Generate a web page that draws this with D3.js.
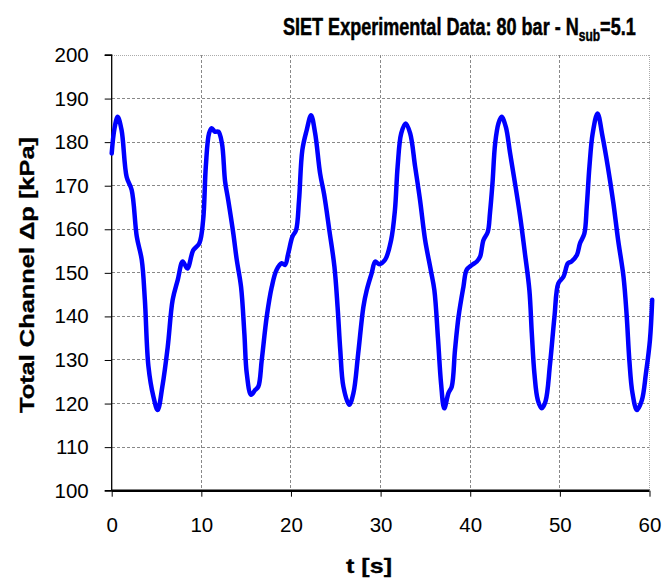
<!DOCTYPE html>
<html><head><meta charset="utf-8">
<script src="https://cdn.jsdelivr.net/npm/d3@7"></script>
<style>html,body{margin:0;padding:0;background:#fff;}svg{display:block;}</style>
</head><body>
<svg id="c" width="665" height="581"></svg>
<script>
const timeS = [0,0.3,0.67,1.1,1.67,2.23,2.8,3.35,3.7,4.1,4.65,5.13,5.65,6.25,6.8,7.37,7.92,8.44,9.1,9.78,10.2,10.5,10.86,11.16,11.5,11.9,12.3,12.65,13,13.57,13.95,14.43,14.8,15.07,15.55,16,16.36,16.74,17.3,17.86,18.4,18.97,19.34,19.7,20.16,20.57,20.9,21.27,21.76,22.24,22.7,23.25,23.7,24.3,24.85,25.2,25.5,25.85,26.5,26.97,27.5,28.08,28.45,29,29.4,29.83,30.5,31.17,31.6,31.9,32.3,32.8,33.3,33.85,34.4,34.97,35.6,36.0,36.4,36.75,37.1,37.57,37.94,38.3,38.7,39.24,39.6,40.18,40.74,41.1,41.47,41.96,42.2,42.48,42.78,43.15,43.5,43.97,44.45,45,45.57,46.1,46.6,46.87,47.16,47.54,47.98,48.4,48.9,49.4,49.83,50.4,50.9,51.3,51.9,52.25,52.73,53,53.3,53.66,54.2,54.76,55.35,55.97,56.5,57.1,57.46,57.75,58.1,58.6,59.15,59.6,60.05,60.3];
const dpKPa = [177.4,183,185.8,182.8,172,169,158.3,153,143.8,128.5,121.6,118.5,123.9,133,143.8,148.4,152.6,151,155.2,156.8,162.1,174.4,182,183.2,182.4,182.4,179.7,171,166.7,159,153,146.8,136.1,126.9,122,123.1,123.9,130,140,146.8,150.7,152.2,151.8,154.5,158.3,159.8,166.7,178.2,182.8,186.2,182,172.8,168,159.5,151.4,142.2,132.3,123.9,119.7,122.4,131.5,142.2,146,149.9,152.6,152,153,157.5,164.4,174.4,182,184.3,182,174.4,166.7,157.5,150.6,146,135,124.5,118.9,122.4,123.9,132.3,140,146.8,150.7,151.8,152.6,153.7,157.5,159.4,163.7,170.5,179.7,184.3,185.8,183.5,177.4,170.5,162.9,154.5,146,136.1,126.9,120.8,118.9,120.5,129,140,147.6,149.1,152.2,152.6,154.1,156.8,159,165.2,174.4,182,186.6,181.3,174.4,166,157.5,149.1,140,130,122.4,118.5,120.8,126.9,134.6,143.8];
const xTicks = [0,10,20,30,40,50,60];
const yTicks = [100,110,120,130,140,150,160,170,180,190,200];
const titleMain = "SIET Experimental Data: 80 bar - N";
const titleSub = "sub";
const titleEnd = "=5.1";
const xLabel = "t [s]";
const yLabel = "Total Channel \u0394p [kPa]";

const svg = d3.select("#c");
const L = 111.7, R = 649.5, T = 55, B = 490.7;
const x = d3.scaleLinear().domain([0,60]).range([L,R]);
const y = d3.scaleLinear().domain([100,200]).range([B,T]);

// gridlines
const grid = svg.append("g");
grid.selectAll("line.h").data(yTicks.filter(v=>v>100)).join("line")
  .attr("x1",L).attr("x2",R).attr("y1",d=>y(d)).attr("y2",d=>y(d))
  .attr("stroke",d=>d===200?"#aaa":"#888").attr("stroke-width",1)
  .attr("stroke-dasharray",d=>d===200?"1,1":"3,2").attr("shape-rendering","crispEdges");
grid.selectAll("line.v").data(xTicks.filter(v=>v>0)).join("line")
  .attr("y1",T).attr("y2",B).attr("x1",d=>x(d)).attr("x2",d=>x(d))
  .attr("stroke",d=>d===60?"#aaa":"#888").attr("stroke-width",1)
  .attr("stroke-dasharray",d=>d===60?"1,1":"3,2").attr("shape-rendering","crispEdges");

// axes
const yAxis = d3.axisLeft(y).tickValues(yTicks).tickSize(7).tickPadding(16).tickFormat(d3.format("d"));
const gy = svg.append("g").attr("transform",`translate(${L},0)`).call(yAxis);
gy.select(".domain").attr("stroke","#000").attr("stroke-width",1.3).attr("d",`M-7,${T}H0V${B}H-7`);
gy.selectAll("text").attr("font-family","Liberation Sans, Arial, sans-serif").attr("font-size",20.5).attr("fill","#000");
gy.selectAll(".tick line").attr("stroke","#000");

const xAxis = d3.axisBottom(x).tickValues(xTicks).tickSize(6).tickPadding(21).tickFormat(d3.format("d"));
const gx = svg.append("g").attr("transform",`translate(0,${B})`).call(xAxis);
gx.select(".domain").attr("stroke","#000").attr("stroke-width",2.5).attr("d",`M${L},0H${R}`);
gx.selectAll("text").attr("font-family","Liberation Sans, Arial, sans-serif").attr("font-size",20.5).attr("fill","#000");
gx.selectAll(".tick line").attr("stroke","#000");

// data line
const line = d3.line().x((d,i)=>x(timeS[i])).y(d=>y(d)).curve(d3.curveCatmullRom.alpha(0.5));
svg.append("path").datum(dpKPa).attr("d",line).attr("fill","none")
  .attr("stroke","#0000ff").attr("stroke-width",4.5).attr("stroke-linejoin","round").attr("stroke-linecap","round");

const boldFont = "Liberation Sans, Arial, sans-serif";
// title
const title = svg.append("text").attr("font-family",boldFont)
  .attr("font-weight","bold").attr("font-size",24).attr("fill","#000")
  .attr("stroke","#000").attr("stroke-width",0.5).attr("x",0).attr("y",0);
title.append("tspan").text(titleMain);
title.append("tspan").attr("font-size",16).attr("dy",6).text(titleSub);
title.append("tspan").attr("dy",-6).text(titleEnd);
const tb = title.node().getBBox();
const tw = 353, sx = tw/tb.width;
title.attr("transform",`translate(283,35) scale(${sx},1)`);

// x label
const xl = svg.append("text").attr("font-family",boldFont).attr("font-weight","bold")
  .attr("font-size",21).attr("text-anchor","middle").attr("stroke","#000").attr("stroke-width",0.3)
  .attr("x",0).attr("y",0).text(xLabel);
const xb = xl.node().getBBox();
xl.attr("transform",`translate(369,573) scale(${46/xb.width},1)`);

// y label
const yl = svg.append("text").attr("font-family",boldFont).attr("font-weight","bold")
  .attr("font-size",21).attr("text-anchor","middle").attr("stroke","#000").attr("stroke-width",0.3)
  .attr("x",0).attr("y",0).text(yLabel);
const yb = yl.node().getBBox();
yl.attr("transform",`translate(34,275) rotate(-90) scale(${276/yb.width},1)`);
</script>
</body></html>
